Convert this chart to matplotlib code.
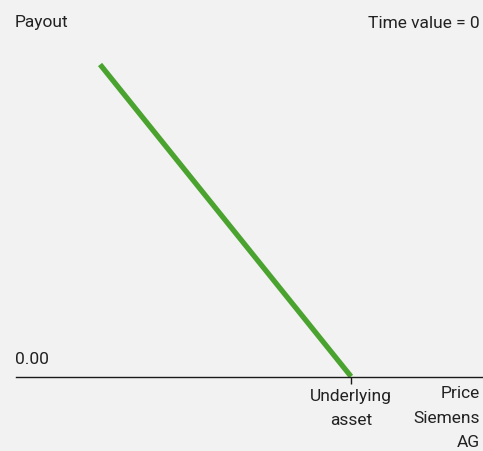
import matplotlib
matplotlib.use("Agg")
import matplotlib.pyplot as plt

# payoff of a put at expiry (time value = 0)
price = [25, 100]
payout = [75, 0]
strike = 100
strike_label = "Underlying\nasset"
x_label = "Price\nSiemens\nAG"
y_label = "Payout"
zero_label = "0.00"
note = "Time value = 0"

BG = "#f2f2f2"
GREEN = "#4ba32f"
TXT = "#222222"
FS = 12.5

plt.rcParams["font.family"] = ["Roboto", "DejaVu Sans"]

W, H = 483, 452
fig = plt.figure(figsize=(W / 100, H / 100), dpi=100, facecolor=BG)
ax = fig.add_axes([16.4 / W, (H - 377.5) / H, 468.5 / W, 332.8 / H])
ax.set_facecolor(BG)
ax.set_xlim(0, 140)
ax.set_ylim(0, 80)

ax.plot(price, payout, color=GREEN, lw=3.8, solid_capstyle="butt", clip_on=False)

for s in ["top", "right", "left"]:
    ax.spines[s].set_visible(False)
ax.spines["bottom"].set_linewidth(1.0)
ax.spines["bottom"].set_color("#1a1a1a")
ax.set_yticks([])
ax.set_xticks([strike])
ax.set_xticklabels([strike_label], fontsize=FS, color=TXT, linespacing=1.8)
ax.tick_params(axis="x", length=5, width=1, color="#1a1a1a", pad=3)

fig.text(15 / W, 1 - 23 / H, y_label, ha="left", va="center", fontsize=FS, color=TXT)
fig.text(480 / W, 1 - 23 / H, note, ha="right", va="center", fontsize=FS, color=TXT)
fig.text(15 / W, 1 - 360 / H, zero_label, ha="left", va="center", fontsize=FS, color=TXT)
fig.text(480 / W, 1 - 386 / H, x_label, ha="right", va="top", fontsize=FS, color=TXT,
         linespacing=1.8, multialignment="right")

fig.savefig("out.png", dpi=100, facecolor=BG)
